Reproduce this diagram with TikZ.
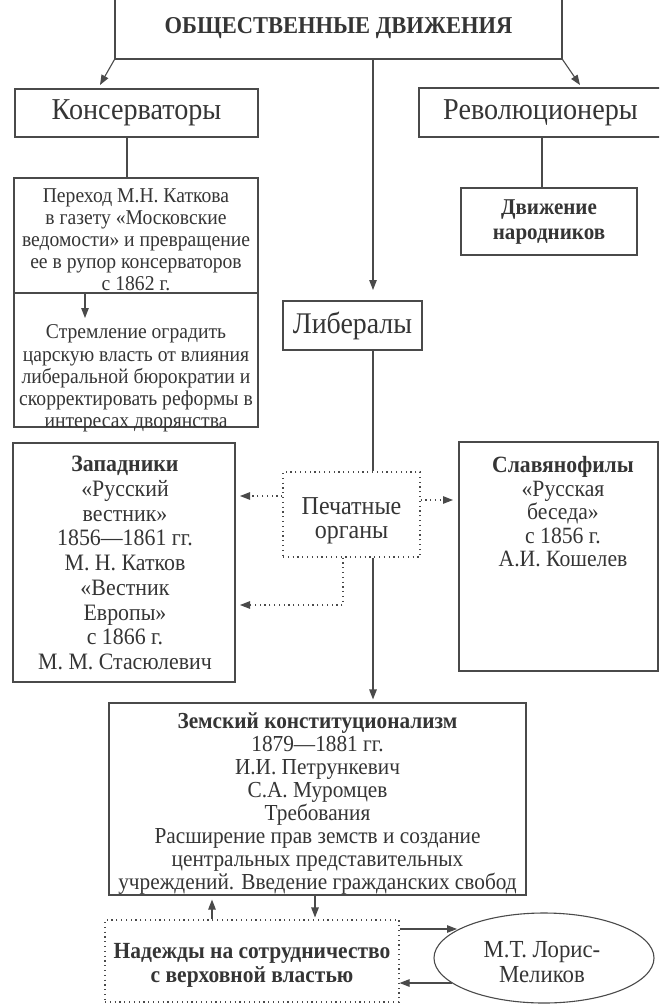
\documentclass[tikz,border=0pt]{standalone}
\usepackage{fontspec}
\setmainfont{Liberation Serif}[FakeStretch=0.93]
\usetikzlibrary{arrows.meta,shapes.geometric,calc}
\definecolor{ink}{HTML}{353535}
\definecolor{lin}{HTML}{4A4A4A}
\newcommand\myfs[2]{\fontsize{#1}{#2}\selectfont}
\begin{document}
\begin{tikzpicture}[x=1pt,y=-1pt,
  box/.style={draw=lin, line width=1.1pt, inner sep=0pt, text=ink, align=center},
  dotbox/.style={box, dash pattern=on 1.2pt off 3.6pt},
  plain/.style={inner sep=0pt, text=ink, align=center},
  ln/.style={draw=lin, line width=1.1pt},
  arr/.style={ln, -{Triangle[length=10pt,width=7.5pt]}},
  dotarr/.style={arr, dash pattern=on 1.2pt off 3.6pt}]
\useasboundingbox (0,0) rectangle (659,1004);
\clip (0,0) rectangle (659,1004);
\fill[white] (0,0) rectangle (659,1004);

% boxes
\node[box, minimum width=447, minimum height=61, font=\bfseries\myfs{24.2}{28}] (top) at (338.5,28.5) {ОБЩЕСТВЕННЫЕ ДВИЖЕНИЯ};
\node[box, minimum width=243, minimum height=48, font=\myfs{30.3}{32}] (kons) at (136.5,113) {Консерваторы};
\node[box, minimum width=243, minimum height=49, font=\myfs{30.3}{32}] (rev) at (540.5,112.5) {Революционеры};
\node[box, minimum width=244, minimum height=115] (per) at (136,235.5) {};
\node[plain, font=\myfs{21.1}{22}] (pert) at (136,239.5)
  {Переход М.Н. Каткова\\в газету «Московские\\ведомости» и превращение\\ее в рупор консерваторов\\с 1862 г.};
\node[box, minimum width=244, minimum height=134] (str) at (136,360) {};
\node[plain, font=\myfs{21.1}{22.2}] (strt) at (136,378.5)
  {Стремление оградить\\царскую власть от влияния\\либеральной бюрократии и\\скорректировать реформы в\\интересах дворянства};
\node[box, minimum width=139, minimum height=49, font=\myfs{30}{32}] (lib) at (352.5,325.5) {Либералы};
\node[box, minimum width=176, minimum height=67] (nar) at (549,221.5) {};
\node[plain, font=\bfseries\myfs{22.6}{25}] (nart) at (549,222) {Движение\\народников};
\node[box, minimum width=222, minimum height=239] (zap) at (124,562.5) {};
\node[plain, font=\myfs{23.5}{24.7}] (zapt) at (125,563)
  {\textbf{Западники}\\«Русский\\вестник»\\1856—1861 гг.\\М. Н. Катков\\«Вестник\\Европы»\\с 1866 г.\\М. М. Стасюлевич};
\node[dotbox, minimum width=137, minimum height=85] (pech) at (351.5,514.5) {};
\node[plain, font=\myfs{25.8}{24}] (pecht) at (351.5,521) {Печатные\\органы};
\node[box, minimum width=199, minimum height=229] (slav) at (558.5,556.5) {};
\node[plain, font=\myfs{23.3}{23.5}] (slavt) at (563,512)
  {\textbf{Славянофилы}\\«Русская\\беседа»\\с 1856 г.\\А.И. Кошелев};
\node[box, minimum width=417, minimum height=192] (zem) at (317.5,799) {};
\node[plain, font=\myfs{22.9}{23}] (zemt) at (317.5,804)
  {\textbf{Земский конституционализм}\\1879—1881 гг.\\И.И. Петрункевич\\С.А. Муромцев\\Требования\\Расширение прав земств и создание\\центральных представительных\\учреждений. Введение гражданских свобод};
\node[dotbox, minimum width=294, minimum height=82] (nad) at (252,961) {};
\node[plain, font=\bfseries\myfs{23.1}{23.5}] (nadt) at (252,965.5)
  {Надежды на сотрудничество\\с верховной властью};
\node[box, ellipse, minimum width=220, minimum height=90] (lor) at (544,958) {};
\node[plain, font=\myfs{24.5}{25}] (lort) at (542,962) {М.Т. Лорис-\\Меликов};

% helper coordinates
\coordinate (xk) at (127,0);
\coordinate (xr) at (542,0);
\coordinate (xl) at (373,0);
\coordinate (xa) at (85,0);
\coordinate (xup) at (212,0);
\coordinate (xdn) at (315,0);
\coordinate (kTip) at (100,85);
\coordinate (rTip) at (580,85);
\coordinate (lTip) at (373,290);
\coordinate (sTip) at (85,318);
\coordinate (zt1) at (240,496);
\coordinate (st1) at (453,500);
\coordinate (bend) at (343,605);
\coordinate (zt2) at (240,605);
\coordinate (lt1) at (457,929);
\coordinate (lb1) at (452,983);

% connectors
\draw[arr] (top.south west) -- (kTip);
\draw[arr] (top.south east) -- (rTip);
\draw[arr] (top.south -| xl) -- (lTip);
\draw[ln] (kons.south -| xk) -- (per.north -| xk);
\draw[ln] (rev.south -| xr) -- (nar.north -| xr);
\draw[arr] (per.south -| xa) -- (sTip);
\draw[ln] (lib.south -| xl) -- (pech.north -| xl);
\draw[dotarr] (pech.west |- zt1) -- (zt1);
\draw[dotarr] (pech.east |- st1) -- (st1);
\draw[dotarr] (pech.south -| bend) -- (bend) -- (zt2);
\draw[arr, shorten >=3pt] (pech.south -| xl) -- (zem.north -| xl);
\draw[arr, shorten >=4pt] (nad.north -| xup) -- (zem.south -| xup);
\draw[arr, shorten >=2pt] (zem.south -| xdn) -- (nad.north -| xdn);
\draw[arr] (nad.east |- lt1) -- (lt1);
\draw[arr] (lb1) -- (nad.east |- lb1);
\end{tikzpicture}
\end{document}
